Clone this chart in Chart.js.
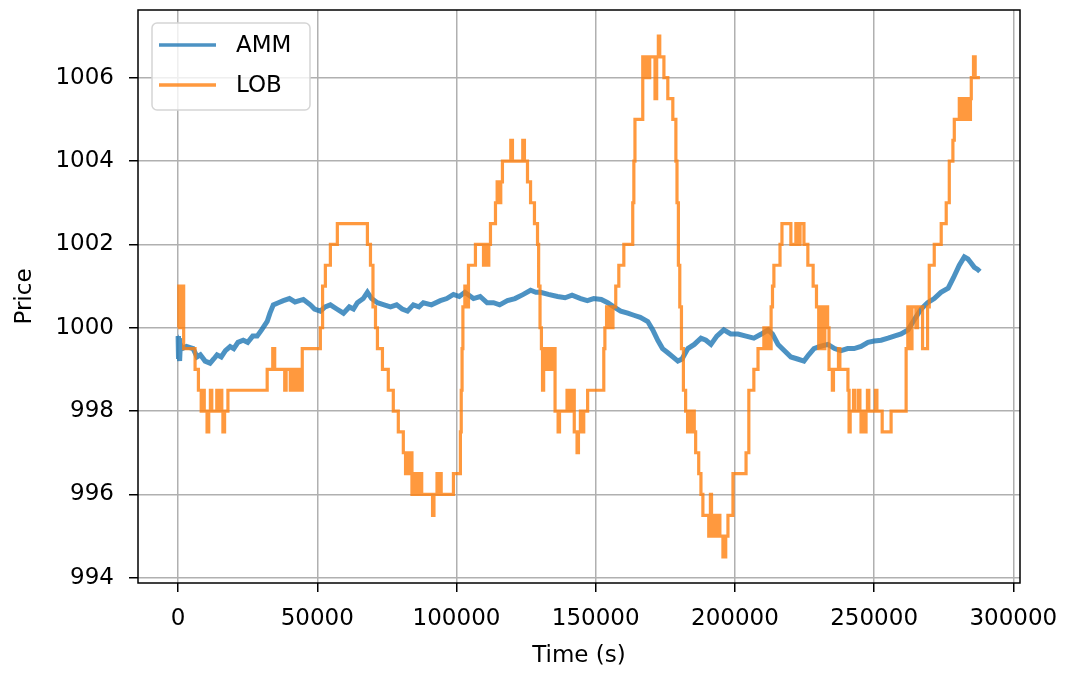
<!DOCTYPE html>
<html>
<head>
<meta charset="utf-8">
<script src="https://cdn.jsdelivr.net/npm/chart.js@4.4.1/dist/chart.umd.min.js"></script>
<style>
  html, body { margin: 0; padding: 0; background: #fff; }
  #chart { display: block; }
</style>
</head>
<body>
<canvas id="chart" width="1070" height="673"></canvas>
<script>
// time (s) and price pairs

// limit order book mid price: value holds from its time until the next entry
const lobSteps = [
  [0, 1000], [250, 1001], [600, 1000], [900, 1001], [1300, 1000], [1600, 1001], [2000, 999.5],
  [6100, 999], [7300, 998.5], [8300, 998], [8800, 998.5], [9400, 998], [10400, 997.5], [11000, 998],
  [11600, 998.5], [12100, 998], [13900, 998.5], [14400, 998], [15300, 998.5], [15700, 998],
  [16100, 997.5], [16700, 998], [17900, 998.5],
  [32000, 999], [34000, 999.5], [34700, 999], [38300, 998.5], [38800, 999], [40300, 998.5],
  [40700, 999], [41400, 998.5], [41900, 999], [42400, 998.5], [42900, 999], [43300, 998.5],
  [43800, 999], [44100, 998.5], [44600, 999.5],
  [51100, 1000], [51900, 1001], [52900, 1001.5], [54700, 1002], [57200, 1002.5], [68000, 1002],
  [69100, 1001.5], [70000, 1000.5], [70900, 1000], [71600, 999.5], [73400, 999], [75500, 998.5],
  [77300, 998], [79100, 997.5], [80900, 997],
  [81700, 996.5], [82200, 997], [82800, 996.5], [83400, 997], [84000, 996], [84600, 996.5],
  [85100, 996], [85700, 996.5], [86300, 996], [86900, 996.5], [87500, 996],
  [91400, 995.5], [91900, 996], [93000, 996.5], [93400, 996], [94100, 996.5], [94500, 996],
  [98900, 996.5],
  [101400, 997.5], [101700, 998.5], [102000, 999.5], [102300, 1000.5], [103000, 1001],
  [103500, 1000.5], [104300, 1001.5], [106800, 1002], [109700, 1001.5], [110300, 1002],
  [111000, 1001.5], [111600, 1002], [112200, 1002.5], [114000, 1003], [114600, 1003.5],
  [115200, 1003], [115900, 1003.5], [116500, 1004], [119500, 1004.5], [120100, 1004],
  [123800, 1004.5], [124400, 1004], [125500, 1003.5], [126600, 1003], [128000, 1002.5],
  [129100, 1002], [129500, 1001], [130000, 1000], [130500, 999.5], [130900, 998.5],
  [131300, 999.5], [132000, 999], [132600, 999.5], [133200, 999], [133800, 999.5],
  [134400, 999], [134900, 999.5], [135400, 998], [136500, 997.5], [137000, 998],
  [139700, 998.5], [140100, 998], [140800, 998.5], [141200, 998], [141900, 998.5],
  [142300, 997.5], [143300, 997], [143800, 997.5], [144500, 998], [144900, 997.5],
  [145700, 998], [147100, 998.5],
  [152900, 999.5], [153300, 1000], [153900, 1000.5], [154400, 1000], [155000, 1000.5],
  [155600, 1000], [156200, 1000.5], [157200, 1001], [158300, 1001.5], [160100, 1002],
  [163300, 1003], [163700, 1004], [164100, 1005], [166900, 1006.5], [167300, 1006],
  [168200, 1006.5], [168700, 1006], [169400, 1006.5], [171300, 1005.5], [171900, 1006.5],
  [172500, 1007], [173000, 1006.5], [174500, 1006], [175900, 1005.5], [177700, 1005],
  [178800, 1004], [179200, 1003], [179700, 1001.5], [180200, 1000.5], [180800, 999.5],
  [181500, 998.5], [182300, 998], [183000, 997.5], [183600, 998], [184200, 997.5],
  [184800, 998], [185400, 997.5], [185900, 997], [187000, 996.5], [187800, 996],
  [188500, 995.5], [190600, 995], [191200, 996], [191600, 995.5], [192200, 995],
  [192800, 995.5], [193400, 995], [194000, 995.5], [194600, 995], [195700, 994.5],
  [196700, 995], [197500, 995.5], [199300, 996.5],
  [204000, 997], [205000, 998.5], [206800, 999], [208300, 999.5], [210400, 1000],
  [210900, 999.5], [211700, 1000], [212200, 999.5], [213000, 1000.5], [213500, 1001],
  [214000, 1001.5], [216200, 1002], [216900, 1002.5], [220100, 1002], [221900, 1002.5],
  [222600, 1002], [223400, 1002.5], [224800, 1002], [226200, 1001.5], [228100, 1001],
  [229300, 1000.5], [230100, 999.5], [230700, 1000.5], [231700, 999.5], [232300, 1000.5],
  [233300, 1000], [233800, 999], [235000, 998.5], [235400, 999], [237200, 999.5],
  [237700, 999], [240600, 998.5], [241000, 997.5], [241400, 998], [242600, 998.5],
  [243100, 998], [244400, 998.5], [244900, 998], [245300, 997.5], [245800, 998],
  [246400, 997.5], [247100, 998], [247600, 998.5], [248100, 998], [250500, 998.5],
  [251000, 998], [252900, 997.5], [256100, 998],
  [261500, 999.5], [262100, 1000.5], [263100, 999.5], [263600, 1000.5], [265000, 1000],
  [265600, 1000.5], [267400, 999.5], [269200, 1000.5], [269800, 1001.5], [271600, 1002],
  [274100, 1002.5], [275900, 1003], [277000, 1004], [278300, 1004.5], [278800, 1005],
  [280600, 1005.5], [281300, 1005], [282000, 1005.5], [282700, 1005], [283300, 1005.5],
  [284000, 1005], [284600, 1005.5], [284900, 1006], [285700, 1006.5], [286300, 1006],
  [288000, 1006]
];

// automated market maker price
const ammSeries = [
  [0, 999.8], [150, 999.25], [350, 999.75], [550, 999.2], [800, 999.6], [1500, 999.5],
  [3000, 999.55], [5400, 999.5], [6800, 999.3], [8000, 999.35], [9700, 999.2], [11500, 999.15],
  [12800, 999.25], [14000, 999.35], [15500, 999.3], [17000, 999.45], [18700, 999.55],
  [20000, 999.5], [21500, 999.65], [23400, 999.7], [25000, 999.65], [26800, 999.8],
  [28400, 999.8], [30000, 999.95], [32000, 1000.15], [33000, 1000.35], [34200, 1000.55],
  [36000, 1000.6], [37800, 1000.65], [40000, 1000.7], [42000, 1000.62], [45000, 1000.68],
  [47500, 1000.55], [49000, 1000.45], [51100, 1000.4], [52800, 1000.5], [54700, 1000.55],
  [57000, 1000.45], [59400, 1000.35], [61500, 1000.5], [63000, 1000.45], [64400, 1000.6],
  [66500, 1000.7], [68000, 1000.85], [69500, 1000.7], [71600, 1000.6], [74000, 1000.55],
  [76300, 1000.5], [78500, 1000.55], [80500, 1000.45], [82400, 1000.4], [84500, 1000.55],
  [86500, 1000.5], [88100, 1000.6], [91000, 1000.55], [94200, 1000.65], [96500, 1000.7],
  [98900, 1000.8], [101000, 1000.75], [103000, 1000.85], [106100, 1000.7], [108500, 1000.75],
  [111000, 1000.6], [113300, 1000.6], [115500, 1000.55], [118300, 1000.65], [121000, 1000.7],
  [124000, 1000.8], [126600, 1000.9], [128500, 1000.85], [130200, 1000.85], [133000, 1000.8],
  [136300, 1000.75], [139000, 1000.72], [141500, 1000.78], [144600, 1000.7], [147000, 1000.65],
  [149300, 1000.7], [152000, 1000.68], [154300, 1000.6], [156500, 1000.5], [159000, 1000.4],
  [161500, 1000.35], [163700, 1000.3], [166000, 1000.25], [168700, 1000.15], [170500, 999.95],
  [172300, 999.7], [174000, 999.5], [175900, 999.4], [177700, 999.3], [179500, 999.2],
  [181000, 999.25], [183100, 999.5], [185400, 999.6], [187800, 999.75], [189600, 999.7],
  [191400, 999.6], [193500, 999.8], [196000, 999.95], [198500, 999.85], [201100, 999.85],
  [204000, 999.8], [206800, 999.75], [209500, 999.85], [211900, 999.95], [213500, 999.85],
  [215500, 999.6], [217800, 999.45], [220100, 999.3], [222500, 999.25], [224800, 999.2],
  [226500, 999.35], [228400, 999.5], [230500, 999.55], [233400, 999.6], [235800, 999.5],
  [238100, 999.45], [240500, 999.5], [242800, 999.5], [245300, 999.55], [247800, 999.65],
  [250000, 999.68], [252500, 999.7], [255000, 999.75], [257200, 999.8], [259700, 999.85],
  [262200, 999.95], [264500, 1000.2], [266900, 1000.45], [269200, 1000.6], [271600, 1000.7],
  [274000, 1000.85], [276600, 1000.95], [278500, 1001.2], [280600, 1001.5], [282400, 1001.7],
  [283700, 1001.65], [284900, 1001.55], [286000, 1001.45], [287200, 1001.4], [288000, 1001.35]
];

const xTicks = [0, 50000, 100000, 150000, 200000, 250000, 300000];
const yTicks = [994, 996, 998, 1000, 1002, 1004, 1006];
const xMin = -14400, xMax = 302400;
const yMin = 993.875, yMax = 1007.625;

const toPoints = rows => rows.map(([x, y]) => ({ x, y }));

Chart.defaults.font.family = '"DejaVu Sans", sans-serif';
Chart.defaults.font.size = 23;
Chart.defaults.color = '#000';

// axes box on all four sides plus a matplotlib-style legend in the top-left corner
const frameLegend = {
  id: 'frameLegend',
  afterDatasetsDraw(chart) {
    const { ctx, chartArea: a } = chart;
    ctx.save();
    ctx.strokeStyle = '#000';
    ctx.lineWidth = 1.5;
    ctx.strokeRect(a.left, a.top, a.right - a.left, a.bottom - a.top);

    const bx = a.left + 14, by = a.top + 13, bw = 158, bh = 87;
    ctx.beginPath();
    ctx.roundRect(bx, by, bw, bh, 5);
    ctx.fillStyle = 'rgba(255,255,255,0.8)';
    ctx.fill();
    ctx.strokeStyle = '#d5d5d5';
    ctx.lineWidth = 1.5;
    ctx.stroke();

    ctx.font = '23px "DejaVu Sans"';
    ctx.textBaseline = 'middle';
    chart.data.datasets.forEach((ds, i) => {
      const y = by + 22 + i * 40;
      ctx.beginPath();
      ctx.moveTo(bx + 7, y);
      ctx.lineTo(bx + 64, y);
      ctx.strokeStyle = ds.borderColor;
      ctx.lineWidth = 3.5;
      ctx.stroke();
      ctx.fillStyle = '#000';
      ctx.fillText(ds.label, bx + 84, y + 1);
    });
    ctx.restore();
  }
};

const gridStyle = { color: '#b0b0b0', lineWidth: 1.5, tickColor: '#000', tickLength: 9, tickWidth: 1.5 };

new Chart(document.getElementById('chart'), {
  type: 'line',
  data: {
    datasets: [
      {
        label: 'AMM',
        data: toPoints(ammSeries),
        borderColor: 'rgba(31,119,180,0.8)',
        borderWidth: 5,
        order: 1
      },
      {
        label: 'LOB',
        data: toPoints(lobSteps),
        borderColor: 'rgba(255,127,14,0.8)',
        borderWidth: 3.2,
        stepped: 'before',
        order: 0
      }
    ]
  },
  options: {
    responsive: false,
    animation: false,
    devicePixelRatio: 1,
    layout: { padding: { left: 0, top: 10, right: 50, bottom: 0 } },
    elements: { point: { radius: 0 }, line: { tension: 0, borderJoinStyle: 'miter' } },
    plugins: { legend: { display: false }, tooltip: { enabled: false } },
    scales: {
      x: {
        type: 'linear',
        min: xMin,
        max: xMax,
        afterBuildTicks: s => { s.ticks = xTicks.map(v => ({ value: v })); },
        afterFit: s => { s.height = 90; s.paddingLeft = 0; s.paddingRight = 0; },
        ticks: { callback: v => String(v), padding: 13, maxRotation: 0, autoSkip: false },
        grid: gridStyle,
        border: { display: false },
        title: { display: true, text: 'Time (s)', padding: { top: 0, bottom: 3 } }
      },
      y: {
        type: 'linear',
        min: yMin,
        max: yMax,
        afterBuildTicks: s => { s.ticks = yTicks.map(v => ({ value: v })); },
        afterFit: s => { s.width = 138; s.paddingTop = 0; s.paddingBottom = 0; },
        ticks: { callback: v => String(v), padding: 15, autoSkip: false },
        grid: gridStyle,
        border: { display: false },
        title: { display: true, text: 'Price', padding: { top: 11, bottom: 0 } }
      }
    }
  },
  plugins: [frameLegend]
});
</script>
</body>
</html>
